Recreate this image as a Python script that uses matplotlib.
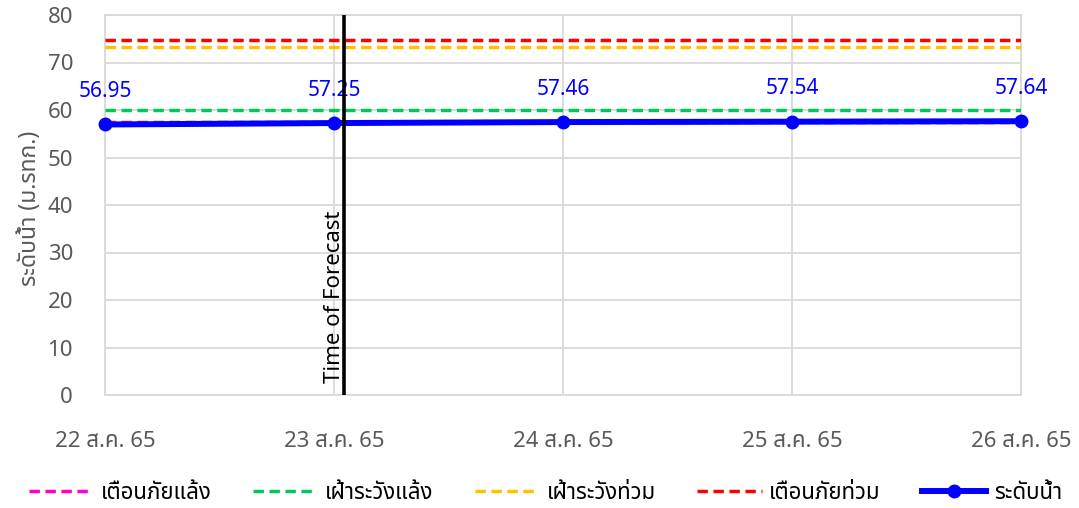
import matplotlib
matplotlib.use("Agg")
import matplotlib.pyplot as plt
from matplotlib import font_manager
from matplotlib.ft2font import FT2Font

# ---- data ----
dates = ["22 ส.ค. 65", "23 ส.ค. 65", "24 ส.ค. 65", "25 ส.ค. 65", "26 ส.ค. 65"]
water_level = [56.95, 57.25, 57.46, 57.54, 57.64]
drought_warning = 57.45     # เตือนภัยแล้ง
drought_watch = 60.0        # เฝ้าระวังแล้ง
flood_watch = 73.2          # เฝ้าระวังท่วม
flood_warning = 74.7        # เตือนภัยท่วม
forecast_pos = 1.045
y_ticks = [0, 10, 20, 30, 40, 50, 60, 70, 80]

# ---- font with Thai glyphs ----
thai_font = None
preferred = ["Noto Sans Thai", "Tahoma", "Leelawadee", "Loma", "Garuda", "Norasi"]
cands = []
for f in font_manager.fontManager.ttflist:
    try:
        ft = FT2Font(f.fname)
        if ft.get_char_index(0x0E40) and ft.get_char_index(0x0E19):
            cands.append(f.name)
    except Exception:
        pass
for p in preferred:
    if p in cands:
        thai_font = p
        break
if thai_font is None and cands:
    thai_font = cands[0]
families = ([thai_font] if thai_font else []) + ["DejaVu Sans"]
plt.rcParams["font.family"] = families

fig = plt.figure(figsize=(10.79, 5.08), dpi=100)
ax = fig.add_axes([0.0973, 1 - 395 / 508, 0.8489, 380 / 508])

x = list(range(len(dates)))
dash = (3.0, 1.6)
lw = 2.5
ax.axhline(drought_warning, color="#FF00CC", lw=lw, dashes=dash, label="เตือนภัยแล้ง", zorder=3)
ax.axhline(drought_watch, color="#00C85A", lw=lw, dashes=dash, label="เฝ้าระวังแล้ง", zorder=3)
ax.axhline(flood_watch, color="#FFC000", lw=lw, dashes=dash, label="เฝ้าระวังท่วม", zorder=3)
ax.axhline(flood_warning, color="#FF0000", lw=lw, dashes=dash, label="เตือนภัยท่วม", zorder=3)
ax.plot(x, water_level, color="#0000FF", lw=4.3, marker="o", markersize=9,
        label="ระดับน้ำ", zorder=5, clip_on=False)

for xi, v in zip(x, water_level):
    ax.annotate(f"{v:.2f}", (xi, v), xytext=(0, 16), textcoords="offset points",
                ha="center", va="bottom", color="#0000FF", fontsize=15)

ax.axvline(forecast_pos, color="black", lw=2.6, zorder=6)
ax.text(forecast_pos + 0.002, 2.5, "Time of Forecast", rotation=90, ha="right", va="bottom",
        fontsize=16, color="black", zorder=7)

ax.set_xlim(0, 4)
ax.set_ylim(0, 80)
ax.set_yticks(y_ticks)
ax.set_xticks(x)
ax.set_xticklabels(dates)
ax.tick_params(axis="x", length=0, pad=26, labelsize=16, labelcolor="#595959")
ax.tick_params(axis="y", length=0, pad=23, labelsize=16, labelcolor="#595959")
ax.grid(True, color="#D9D9D9", lw=1.3, zorder=0)
for s in ax.spines.values():
    s.set_color("#D9D9D9")
    s.set_linewidth(1.3)
ax.set_ylabel("ระดับน้ำ (ม.รทก.)", fontsize=16.5, color="#595959")
ax.yaxis.set_label_coords(-0.069, 0.49)

ax.legend(loc="center", bbox_to_anchor=(0.481, -0.259), ncol=5, frameon=False,
          fontsize=16, handlelength=2.9, columnspacing=1.85, handletextpad=0.35,
          borderaxespad=0)

fig.savefig("out.png", dpi=100)
